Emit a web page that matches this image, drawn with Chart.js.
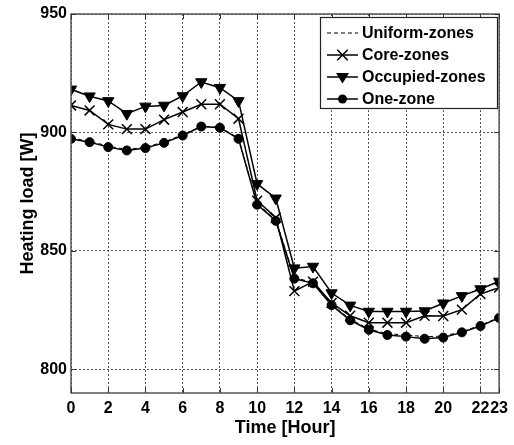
<!DOCTYPE html>
<html>
<head>
<meta charset="utf-8">
<script src="https://cdn.jsdelivr.net/npm/chart.js@4/dist/chart.umd.min.js"></script>
<style>
html,body{margin:0;padding:0;background:#fff;}
#wrap{width:514px;height:445px;position:relative;}
</style>
</head>
<body>
<div id="wrap"><canvas id="c" width="514" height="445"></canvas></div>
<script>
const hours = [0,1,2,3,4,5,6,7,8,9,10,11,12,13,14,15,16,17,18,19,20,21,22,23];
const uniformZones = [897.6,896.3,894.2,892.8,893.8,896.0,899.0,902.6,902.2,897.6,870.0,863.2,838.8,836.6,827.2,821.2,817.0,815.0,814.5,813.8,814.0,815.9,818.6,821.9];
const coreZones = [911.4,909.3,903.4,901.4,901.4,905.4,908.6,911.9,911.9,905.8,871.2,864.0,833.0,837.0,828.0,822.6,819.7,819.7,819.7,822.6,822.5,825.2,831.8,834.5];
const occupiedZones = [918.2,915.3,913.3,907.9,911.0,911.4,915.4,921.3,918.9,913.3,878.3,872.2,842.7,843.4,832.2,827.0,824.4,824.4,824.4,824.6,827.9,831.0,833.9,837.1];
const oneZone = [897.3,895.9,893.8,892.4,893.4,895.6,898.7,902.5,902.0,897.3,869.5,862.7,838.3,836.3,827.1,820.7,816.7,814.5,813.8,812.9,813.4,815.6,818.3,821.7];
const xTicks = [0,2,4,6,8,10,12,14,16,18,20,22,23];
const yTicks = [800,850,900,950];
const seriesNames = ['Uniform-zones','Core-zones','Occupied-zones','One-zone'];

const pts = arr => arr.map((v,i)=>({x:hours[i], y:v}));
const FONT = "'Liberation Sans', Arial, sans-serif";

function drawMarker(ctx, style, x, y, r){
  ctx.save();
  ctx.fillStyle='#000'; ctx.strokeStyle='#000'; ctx.lineWidth=1.5;
  ctx.beginPath();
  if(style==='circle'){ ctx.arc(x,y,r,0,Math.PI*2); ctx.fill(); }
  else if(style==='triangle'){
    ctx.moveTo(x-r, y-r*0.6); ctx.lineTo(x+r, y-r*0.6); ctx.lineTo(x, y+r); ctx.closePath(); ctx.fill();
  } else if(style==='crossRot'){
    ctx.moveTo(x-r*0.75,y-r*0.75); ctx.lineTo(x+r*0.75,y+r*0.75);
    ctx.moveTo(x+r*0.75,y-r*0.75); ctx.lineTo(x-r*0.75,y+r*0.75); ctx.stroke();
  }
  ctx.restore();
}

const framePlugin = {
  id:'frame',
  afterDatasetsDraw(chart){
    const {ctx, chartArea:a, scales} = chart;
    ctx.save();
    ctx.strokeStyle='#555'; ctx.lineWidth=1.5;
    ctx.strokeRect(a.left, a.top, a.right-a.left, a.bottom-a.top);
    ctx.strokeStyle='#333'; ctx.lineWidth=1;
    ctx.beginPath();
    xTicks.forEach(t=>{ const px=Math.round(scales.x.getPixelForValue(t))+0.5;
      ctx.moveTo(px,a.bottom); ctx.lineTo(px,a.bottom-5);
      ctx.moveTo(px,a.top); ctx.lineTo(px,a.top+5); });
    yTicks.forEach(t=>{ const py=Math.round(scales.y.getPixelForValue(t))+0.5;
      ctx.moveTo(a.left,py); ctx.lineTo(a.left+5,py);
      ctx.moveTo(a.right,py); ctx.lineTo(a.right-5,py); });
    ctx.stroke();
    ctx.restore();
  }
};

const legendPlugin = {
  id:'inLegend',
  afterDraw(chart){
    const ctx = chart.ctx;
    const x0=320, y0=17, w=177, h=91;
    ctx.save();
    ctx.fillStyle='#fff'; ctx.fillRect(x0,y0,w,h);
    ctx.strokeStyle='#222'; ctx.lineWidth=1.2; ctx.strokeRect(x0+0.5,y0+0.5,w,h);
    ctx.font = "bold 16px "+FONT; ctx.textBaseline='middle'; ctx.fillStyle='#000';
    chart.data.datasets.forEach((ds,i)=>{
      const y = y0+16+i*22;
      ctx.save();
      ctx.strokeStyle='#000'; ctx.lineWidth=ds.borderWidth;
      ctx.setLineDash(ds.borderDash||[]);
      ctx.beginPath(); ctx.moveTo(327,y); ctx.lineTo(358,y); ctx.stroke();
      ctx.restore();
      if(ds.pointRadius>0) drawMarker(ctx, ds.pointStyle, 342.5, y, ds.pointRadius);
      ctx.fillText(ds.label, 362, y+1);
    });
    ctx.restore();
  }
};

new Chart(document.getElementById('c'), {
  type:'line',
  data:{
    datasets:[
      {label:seriesNames[0], data:pts(uniformZones), borderColor:'#000', borderWidth:1, borderDash:[4,3], pointRadius:0, pointStyle:'circle', fill:false},
      {label:seriesNames[1], data:pts(coreZones), borderColor:'#000', backgroundColor:'#000', borderWidth:1.5, pointStyle:'crossRot', pointRadius:7, pointBorderWidth:1.5, pointBorderColor:'#000', fill:false},
      {label:seriesNames[2], data:pts(occupiedZones), borderColor:'#000', backgroundColor:'#000', borderWidth:1.5, pointStyle:'triangle', pointRotation:180, pointRadius:6.5, pointBorderWidth:1, pointBackgroundColor:'#000', pointBorderColor:'#000', fill:false},
      {label:seriesNames[3], data:pts(oneZone), borderColor:'#000', backgroundColor:'#000', borderWidth:1.5, pointStyle:'circle', pointRadius:4.5, pointBorderWidth:1, pointBackgroundColor:'#000', pointBorderColor:'#000', fill:false}
    ]
  },
  options:{
    responsive:false, animation:false, devicePixelRatio:1,
    layout:{padding:{left:0,right:13,top:14,bottom:6}},
    plugins:{legend:{display:false}, tooltip:{enabled:false}},
    elements:{line:{tension:0}},
    scales:{
      x:{type:'linear', min:0, max:23,
        afterBuildTicks(s){ s.ticks = xTicks.map(v=>({value:v})); },
        afterFit(s){ s.height = 46; },
        grid:{color:'#555', lineWidth:1, drawTicks:false},
        border:{display:false, dash:[2,2]},
        ticks:{padding:6, color:'#000', font:{family:FONT, size:16, weight:'bold'}, autoSkip:false, maxRotation:0, callback:v=>String(v)},
        title:{display:true, text:'Time [Hour]', color:'#000', font:{family:FONT, size:18, weight:'bold'}, padding:{top:0,bottom:0}}
      },
      y:{min:790, max:950,
        afterBuildTicks(s){ s.ticks = yTicks.map(v=>({value:v})); },
        afterFit(s){ s.width = 71; },
        grid:{color:'#555', lineWidth:1, drawTicks:false},
        border:{display:false, dash:[2,2]},
        ticks:{padding:4, color:'#000', font:{family:FONT, size:16, weight:'bold'}, callback:v=>String(v)},
        title:{display:true, text:'Heating load [W]', color:'#000', font:{family:FONT, size:18, weight:'bold'}, padding:{top:17,bottom:0}}
      }
    }
  },
  plugins:[framePlugin, legendPlugin]
});
</script>
</body>
</html>
